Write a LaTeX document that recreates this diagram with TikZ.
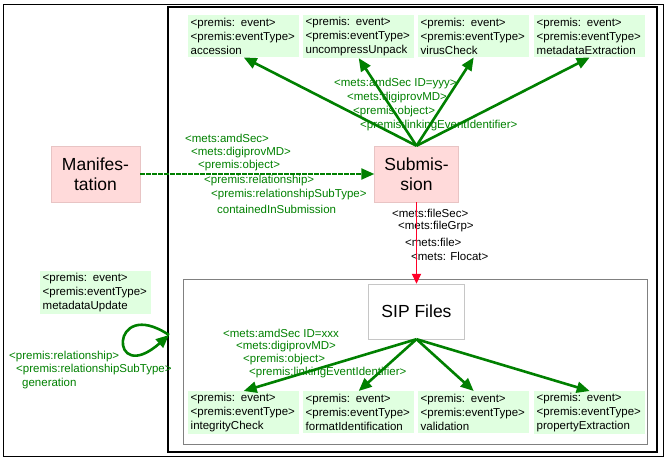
\documentclass[tikz,border=0pt]{standalone}
\usepackage{fontspec}
\setmainfont{Liberation Sans}
\usetikzlibrary{arrows.meta}

\definecolor{eventgreen}{RGB}{224,255,224}
\definecolor{linkgreen}{RGB}{0,128,0}
\definecolor{entitypink}{RGB}{255,218,218}
\definecolor{pinkborder}{RGB}{232,196,196}
\definecolor{flocatred}{RGB}{255,0,40}

\begin{document}
\begin{tikzpicture}[x=1pt,y=-1pt]

	\tikzstyle event box=[fill=eventgreen, anchor=north west, align=left, text width=106pt, inner xsep=2.5pt, inner ysep=2pt, minimum height=42pt, font=\fontsize{11.5}{14}\selectfont];
	\tikzstyle entity box=[fill=entitypink, draw=pinkborder, align=center, minimum height=56pt, font=\fontsize{17.5}{20.5}\selectfont];
	\tikzstyle tag lines=[anchor=west, inner sep=0pt, font=\fontsize{11.5}{14}\selectfont];
	\tikzstyle event lines=[-{Triangle[length=13pt,width=11pt]}, line width=2.6pt, linkgreen];
	\tikzstyle file lines=[-{Triangle[length=10pt,width=9pt]}, line width=1.8pt, flocatred];

	\useasboundingbox (0,0) rectangle (670,460);

	% frames
	\draw[line width=0.8pt] (3.5,4.5) rectangle (663.5,456.5);
	\draw[line width=2pt] (168,7.5) rectangle (657,451.5);
	\draw[gray, line width=0.8pt] (183,279) rectangle (647,444);

	% entities
	\node[entity box, minimum width=89pt] (man) at (95.5,174) {Manifes-\\tation};
	\node[entity box, minimum width=84pt] (sub) at (416.5,174) {Submis-\\sion};
	\node[draw=gray!45, fill=white, minimum width=96pt, minimum height=55pt, font=\fontsize{17.5}{20.5}\selectfont] (sip) at (416.5,311.5) {SIP Files};

	% events
	\foreach \x/\name/\type in {188/acc/accession,303/unp/uncompressUnpack,418/vir/virusCheck,534/meta/metadataExtraction}
		\node[event box] (\name) at (\x,15) {<premis: event>\\<premis:eventType>\\\type};
	\foreach \x/\name/\type in {188/chk/integrityCheck,303/fmt/formatIdentification,418/val/validation,534/prop/propertyExtraction}
		\node[event box] (\name) at (\x,391) {<premis: event>\\<premis:eventType>\\\type};
	\node[event box] (upd) at (40,271) {<premis: event>\\<premis:eventType>\\metadataUpdate};

	% tags
	\foreach \x/\y/\tag [count=\i] in {185/138/<mets:amdSec>,191/153/<mets:digiprovMD>,198/166/<premis:object>,204/181/<premis:relationship>,211/195/<premis:relationshipSubType>,217/209/containedInSubmission}
		\node[tag lines, linkgreen] (rel\i) at (\x,\y) {\tag};
	\foreach \x/\y/\tag [count=\i] in {334/84/<mets:amdSec ID=yyy>,347/98/<mets:digiprovMD>,353/112/<premis:object>,360/126/<premis:linkingEventIdentifier>}
		\node[tag lines, linkgreen] (subtag\i) at (\x,\y) {\tag};
	\foreach \x/\y/\tag [count=\i] in {223/333/<mets:amdSec ID=xxx,236/347/<mets:digiprovMD>,243/360/<premis:object>,249/373/<premis:linkingEventIdentifier>}
		\node[tag lines, linkgreen] (siptag\i) at (\x,\y) {\tag};
	\foreach \x/\y/\tag [count=\i] in {9/357/<premis:relationship>,16/370/<premis:relationshipSubType>,22/384/generation}
		\node[tag lines, linkgreen] (gentag\i) at (\x,\y) {\tag};
	\foreach \x/\y/\tag [count=\i] in {392/213/<mets:fileSec>,398/227/<mets:fileGrp>,405/242/<mets:file>,411/256/<mets: Flocat>}
		\node[tag lines] (filetag\i) at (\x,\y) {\tag};

	% links
	\draw[event lines, line width=2.2pt, dash pattern=on 5pt off 1pt] (man) -- (sub);
	\foreach \name in {acc,unp,vir,meta}
		\draw[event lines] (sub.north) -- (\name.south);
	\foreach \name in {chk,fmt,val,prop}
		\draw[event lines] (sip.south) -- (\name.north);
	\draw[file lines] (sub.south) -- (sip.north);

	\coordinate (loopend) at (169,335);
	\draw[event lines] (loopend) .. controls +(-60,-40) and +(-60,53) .. (loopend);

\end{tikzpicture}
\end{document}
